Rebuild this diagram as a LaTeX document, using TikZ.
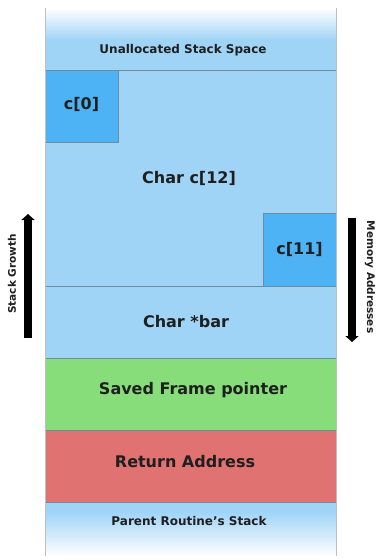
\documentclass[tikz,border=0pt]{standalone}
\usepackage{fontspec}
\setmainfont{DejaVu Sans}
\usetikzlibrary{arrows.meta}
\definecolor{lblue}{HTML}{A0D4F7}
\definecolor{dblue}{HTML}{4DB3F4}
\definecolor{sgreen}{HTML}{86DD7A}
\definecolor{rred}{HTML}{E07272}
\definecolor{edge}{HTML}{6A8DA5}
\begin{document}
\begin{tikzpicture}[x=1pt,y=-1pt,
  band/.style={draw=edge,line width=0.8pt},
  lbl/.style={font=\bfseries\fontsize{16}{18}\selectfont,text=black!88},
  slbl/.style={font=\bfseries\fontsize{12}{14}\selectfont,text=black!88},
  vlbl/.style={font=\bfseries\fontsize{10.5}{12}\selectfont,text=black!88},
  bigarrow/.style={line width=8pt,-{Triangle[length=6pt,width=13pt]}}]
\useasboundingbox (0,0) rectangle (381,560);
% top fade
\shade[top color=white,bottom color=lblue] (45,8) rectangle (336,40);
\fill[lblue] (45,40) rectangle (336,70);
\draw[edge,line width=0.8pt] (45,70) -- (336,70);
\node[slbl] (unalloc) at (183,50) {Unallocated Stack Space};
% char c[12]
\draw[band,fill=lblue] (45,70) rectangle (336,286);
\node[lbl] (c12) at (189,178) {Char c[12]};
\draw[band,fill=dblue] (45,70) rectangle (118,142);
\node[lbl] (c0) at (81.5,104) {c[0]};
\draw[band,fill=dblue] (263,213) rectangle (336,286);
\node[lbl] (c11) at (299.5,249) {c[11]};
% char *bar
\draw[band,fill=lblue] (45,286) rectangle (336,358);
\node[lbl] (bar) at (186,322) {Char *bar};
% saved frame pointer
\draw[band,fill=sgreen] (45,358) rectangle (336,430);
\node[lbl] (sfp) at (193,390) {Saved Frame pointer};
% return address
\draw[band,fill=rred] (45,430) rectangle (336,502);
\node[lbl] (ret) at (185,462) {Return Address};
% parent routine
\fill[lblue] (45,502) rectangle (336,512);
\shade[top color=lblue,bottom color=white] (45,512) rectangle (336,556);
\draw[edge,line width=0.8pt] (45,502) -- (336,502);
\node[slbl] (parent) at (189,521) {Parent Routine\char"27 s Stack};
% side edges
\draw[black!25,line width=0.6pt] (45,8) -- (45,556);
\draw[black!25,line width=0.6pt] (336,8) -- (336,556);
% arrows
\coordinate (g1) at (28,338);
\coordinate (g2) at (28,214);
\draw[bigarrow] (g1) -- (g2);
\node[vlbl,rotate=90] (sg) at (12,274) {Stack Growth};
\coordinate (m1) at (352,218);
\coordinate (m2) at (352,342);
\draw[bigarrow] (m1) -- (m2);
\node[vlbl,rotate=-90] (ma) at (370,277) {Memory Addresses};
\end{tikzpicture}
\end{document}
